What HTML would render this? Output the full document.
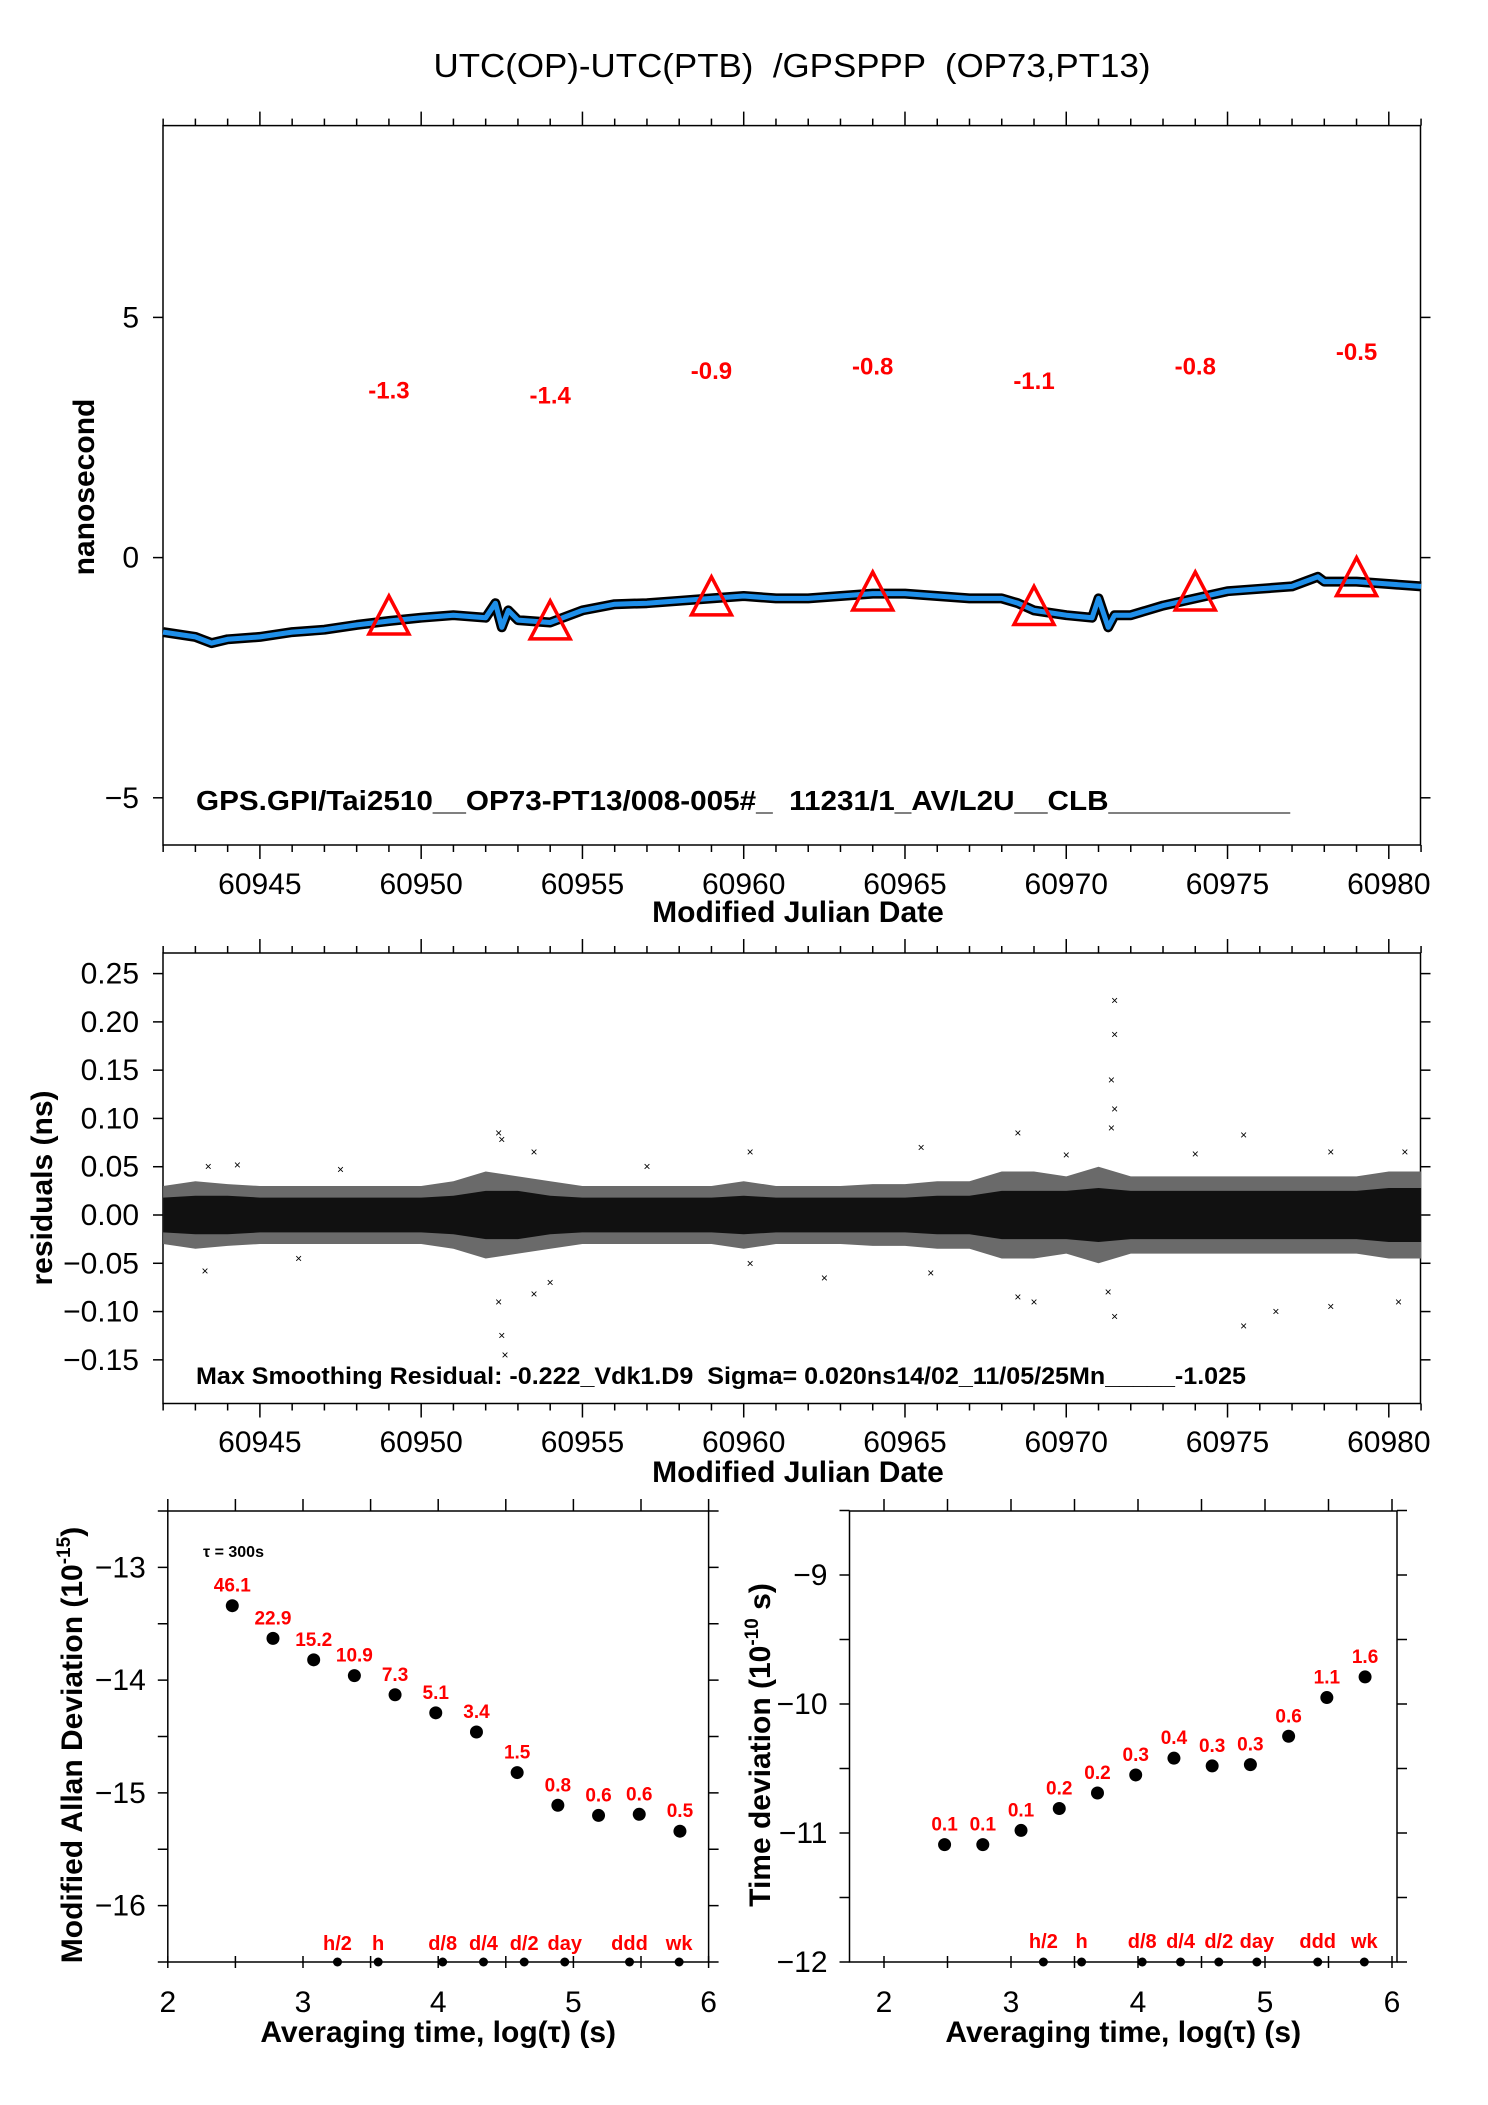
<!DOCTYPE html>
<html><head><meta charset="utf-8"><style>
html,body{margin:0;padding:0;background:#fff;}
svg{display:block;font-family:"Liberation Sans",sans-serif;}
text{white-space:pre;}
</style></head><body>
<svg id="s" width="1488" height="2105" viewBox="0 0 1488 2105" xmlns="http://www.w3.org/2000/svg" xml:space="preserve">
<text x="792" y="77" font-size="33" text-anchor="middle" textLength="717" lengthAdjust="spacingAndGlyphs">UTC(OP)-UTC(PTB)  /GPSPPP  (OP73,PT13)</text>
<g id="p1"></g>
<g id="p2"></g>
<g id="p3"></g>
<g id="p4"></g>
</svg>
<script>
// ---- Panel 1 data ----
const offMjd = [60942,60943,60943.5,60944,60945,60946,60947,60948,60949,60950,60951,60952,60952.3,60952.5,60952.7,60953,60954,60955,60956,60957,60958,60959,60960,60961,60962,60963,60964,60965,60966,60967,60968,60968.5,60969,60970,60970.8,60971,60971.3,60971.5,60972,60973,60974,60975,60976,60977,60977.8,60978,60979,60980,60981];
const offVal = [-1.55,-1.65,-1.78,-1.7,-1.65,-1.55,-1.5,-1.4,-1.32,-1.25,-1.2,-1.25,-0.95,-1.45,-1.1,-1.3,-1.35,-1.1,-0.97,-0.95,-0.9,-0.85,-0.8,-0.85,-0.85,-0.8,-0.75,-0.75,-0.8,-0.85,-0.85,-0.95,-1.1,-1.2,-1.25,-0.85,-1.45,-1.2,-1.2,-1.0,-0.85,-0.7,-0.65,-0.6,-0.4,-0.5,-0.5,-0.55,-0.6];
const triMjd = [60949,60954,60959,60964,60969,60974,60979];
const triVal = [-1.3,-1.4,-0.9,-0.8,-1.1,-0.8,-0.5];
const triLbl = ["-1.3","-1.4","-0.9","-0.8","-1.1","-0.8","-0.5"];
const mjdTicks = [60945,60950,60955,60960,60965,60970,60975,60980];
const nsTicks = [5,0,-5];
// ---- Panel 2 data ----
const bandMjd = [60942,60943,60944,60945,60946,60947,60948,60949,60950,60951,60952,60953,60954,60955,60956,60957,60958,60959,60960,60961,60962,60963,60964,60965,60966,60967,60968,60969,60970,60971,60972,60973,60974,60975,60976,60977,60978,60979,60980,60981];
const bandInner = [0.018,0.02,0.02,0.018,0.018,0.018,0.018,0.018,0.018,0.02,0.025,0.025,0.02,0.018,0.018,0.018,0.018,0.018,0.02,0.018,0.018,0.018,0.018,0.018,0.02,0.02,0.025,0.025,0.025,0.028,0.025,0.025,0.025,0.025,0.025,0.025,0.025,0.025,0.028,0.028];
const bandOuter = [0.03,0.035,0.032,0.03,0.03,0.03,0.03,0.03,0.03,0.035,0.045,0.04,0.035,0.03,0.03,0.03,0.03,0.03,0.035,0.03,0.03,0.03,0.032,0.032,0.035,0.035,0.045,0.045,0.04,0.05,0.04,0.04,0.04,0.04,0.04,0.04,0.04,0.04,0.045,0.045];
const outMjd = [60943.3,60943.4,60944.3,60946.2,60947.5,60952.4,60952.5,60952.4,60952.5,60952.6,60953.5,60953.5,60954,60957,60960.2,60960.2,60962.5,60965.5,60965.8,60968.5,60968.5,60969,60970,60971.5,60971.5,60971.4,60971.5,60971.4,60971.5,60971.3,60974,60975.5,60975.5,60976.5,60978.2,60978.2,60980.3,60980.5];
const outVal = [-0.058,0.05,0.052,-0.045,0.047,0.085,0.078,-0.09,-0.125,-0.145,0.065,-0.082,-0.07,0.05,0.065,-0.05,-0.065,0.07,-0.06,0.085,-0.085,-0.09,0.062,0.222,0.187,0.14,0.11,0.09,-0.105,-0.08,0.063,0.083,-0.115,-0.1,-0.095,0.065,-0.09,0.065];
const resTicks = [0.25,0.20,0.15,0.10,0.05,0.00,-0.05,-0.10,-0.15];
const resLbl = ["0.25","0.20","0.15","0.10","0.05","0.00","\u22120.05","\u22120.10","\u22120.15"];
// ---- Panels 3/4 data ----
const logTau = [2.477,2.778,3.079,3.380,3.681,3.982,4.283,4.584,4.885,5.186,5.487,5.788];
const madev = [-13.34,-13.63,-13.82,-13.96,-14.13,-14.29,-14.46,-14.82,-15.11,-15.2,-15.19,-15.34];
const madevLbl = ["46.1","22.9","15.2","10.9","7.3","5.1","3.4","1.5","0.8","0.6","0.6","0.5"];
const tdev = [-11.09,-11.09,-10.98,-10.81,-10.69,-10.55,-10.42,-10.48,-10.47,-10.25,-9.95,-9.79];
const tdevLbl = ["0.1","0.1","0.1","0.2","0.2","0.3","0.4","0.3","0.3","0.6","1.1","1.6"];
const markTau = [3.255,3.556,4.033,4.335,4.636,4.936,5.415,5.782];
const markLbl = ["h/2","h","d/8","d/4","d/2","day","ddd","wk"];
const logTicks = [2,3,4,5,6];
const adevTicks = [-13,-14,-15,-16];
const tdevTicks = [-9,-10,-11,-12];

const NS="http://www.w3.org/2000/svg";
function mk(parent,tag,attrs,txt){const e=document.createElementNS(NS,tag);for(const k in attrs)e.setAttribute(k,attrs[k]);if(txt!==undefined)e.textContent=txt;parent.appendChild(e);return e;}
function lin(d0,d1,r0,r1){return v=>r0+(v-d0)*(r1-r0)/(d1-d0);}
const FS=30;

// ===== Panel 1 =====
(function(){
const g=document.getElementById('p1');
const L=163,R=1420.5,T=125.6,B=845;
const x=lin(60945,60980,259.9,1388.8), y=lin(0,5,557.6,317.4);
const fr=mk(g,'rect',{x:L,y:T,width:R-L,height:B-T,fill:'none',stroke:'#000','stroke-width':1.5});


for(let d=60942;d<=60981;d++){const len=(d%5===0)?14:7;const px=x(d);
 const t1=mk(g,'line',{x1:px,y1:T,x2:px,y2:T-len,stroke:'#000','stroke-width':1.5});
 
 const t2=mk(g,'line',{x1:px,y1:B,x2:px,y2:B+len,stroke:'#000','stroke-width':1.5});
 }
mjdTicks.forEach(v=>{const t=mk(g,'text',{x:x(v),y:894,'font-size':FS,'text-anchor':'middle'},String(v));
 });
nsTicks.forEach(v=>{const py=y(v);
 const a=mk(g,'line',{x1:L-10,y1:py,x2:L,y2:py,stroke:'#000','stroke-width':1.5});
 const b=mk(g,'line',{x1:R,y1:py,x2:R+10,y2:py,stroke:'#000','stroke-width':1.5});
 const t=mk(g,'text',{x:L-24,y:py+10,'font-size':FS,'text-anchor':'end'},v<0?'\u2212'+Math.abs(v):String(v));
 });
const xt=mk(g,'text',{x:798,y:922,'font-size':FS,'font-weight':'bold','text-anchor':'middle'},'Modified Julian Date');

const yt=mk(g,'text',{x:0,y:0,'font-size':FS,'font-weight':'bold','text-anchor':'middle',transform:'translate(94,487) rotate(-90)'},'nanosecond');

const pts=offMjd.map((m,i)=>x(m).toFixed(1)+','+y(offVal[i]).toFixed(1)).join(' ');
const l1=mk(g,'polyline',{points:pts,fill:'none',stroke:'#000','stroke-width':10,'stroke-linejoin':'round'});

const l2=mk(g,'polyline',{points:pts,fill:'none',stroke:'#1e8fea','stroke-width':5,'stroke-linejoin':'round'});

triMjd.forEach((m,i)=>{const cx=x(m),cy=y(triVal[i]);
 const p=mk(g,'polygon',{points:`${cx-20},${cy+14} ${cx+20},${cy+14} ${cx},${cy-24}`,fill:'none',stroke:'#ff0000','stroke-width':3.5});
 
 const t=mk(g,'text',{x:cx,y:y(triVal[i]+4.8)+9,'font-size':24,'font-weight':'bold',fill:'#ff0000','text-anchor':'middle'},triLbl[i]);
 });
const info=mk(g,'text',{x:196,y:810,'font-size':28,'font-weight':'bold',textLength:1094,lengthAdjust:'spacingAndGlyphs'},'GPS.GPI/Tai2510__OP73-PT13/008-005#_  11231/1_AV/L2U__CLB___________');

})();

// ===== Panel 2 =====
(function(){
const g=document.getElementById('p2');
const L=163,R=1420.5,T=953,B=1403.5;
const x=lin(60945,60980,259.9,1388.8), y=lin(0,0.25,1215,973.6);
const fr=mk(g,'rect',{x:L,y:T,width:R-L,height:B-T,fill:'none',stroke:'#000','stroke-width':1.5});

for(let d=60942;d<=60981;d++){const len=(d%5===0)?14:7;const px=x(d);
 const t1=mk(g,'line',{x1:px,y1:T,x2:px,y2:T-len,stroke:'#000','stroke-width':1.5});
 
 const t2=mk(g,'line',{x1:px,y1:B,x2:px,y2:B+len,stroke:'#000','stroke-width':1.5});
 }
mjdTicks.forEach(v=>{const t=mk(g,'text',{x:x(v),y:1452,'font-size':FS,'text-anchor':'middle'},String(v));
 });
resTicks.forEach((v,i)=>{const py=y(v);
 const a=mk(g,'line',{x1:L-10,y1:py,x2:L,y2:py,stroke:'#000','stroke-width':1.5});
 const b=mk(g,'line',{x1:R,y1:py,x2:R+10,y2:py,stroke:'#000','stroke-width':1.5});
 const t=mk(g,'text',{x:L-24,y:py+10,'font-size':FS,'text-anchor':'end'},resLbl[i]);
 });
const xt=mk(g,'text',{x:798,y:1482,'font-size':FS,'font-weight':'bold','text-anchor':'middle'},'Modified Julian Date');

const yt=mk(g,'text',{x:0,y:0,'font-size':FS,'font-weight':'bold','text-anchor':'middle',transform:'translate(52,1188) rotate(-90)'},'residuals (ns)');

function band(arr,fill,name){const up=bandMjd.map((m,i)=>x(m).toFixed(1)+','+y(arr[i]).toFixed(1));
 const lo=bandMjd.map((m,i)=>x(m).toFixed(1)+','+y(-arr[i]).toFixed(1)).reverse();
 const p=mk(g,'polygon',{points:up.concat(lo).join(' '),fill:fill});
 }
band(bandOuter,'#6a6a6a','residual-outer-band');
band(bandInner,'#111','residual-inner-band');
outMjd.forEach((m,i)=>{const t=mk(g,'text',{x:x(m),y:y(outVal[i])+4,'font-size':12,'text-anchor':'middle'},'\u00d7');
 });
const info=mk(g,'text',{x:196,y:1384,'font-size':24,'font-weight':'bold',textLength:1050,lengthAdjust:'spacingAndGlyphs'},'Max Smoothing Residual: -0.222_Vdk1.D9  Sigma= 0.020ns14/02_11/05/25Mn_____-1.025');

})();

// ===== Panels 3 & 4 =====
function stab(gid,L,R,T,B,x2,x6,yA,yAv,yB,yBv,yTicks,vals,lbls,labelDy){
const g=document.getElementById(gid);
const x=lin(2,6,x2,x6), y=lin(yAv,yBv,yA,yB);
const fr=mk(g,'rect',{x:L,y:T,width:R-L,height:B-T,fill:'none',stroke:'#000','stroke-width':1.5});

for(let k=2;k<=6;k+=0.5){const px=x(k);
 const t1=mk(g,'line',{x1:px,y1:T,x2:px,y2:T-12,stroke:'#000','stroke-width':1.5});
 const t2=mk(g,'line',{x1:px,y1:B-6,x2:px,y2:B+6,stroke:'#000','stroke-width':1.5});}
logTicks.forEach(v=>{const t=mk(g,'text',{x:x(v),y:2012,'font-size':FS,'text-anchor':'middle'},String(v));
 });
const step=yTicks[0]-yTicks[1];
for(let v=yTicks[0]+step/2;v>=yTicks[yTicks.length-1]-step/2-1e-9;v-=step/2){const py=y(v);if(py<T-1||py>B+1)continue;
 const a=mk(g,'line',{x1:L-10,y1:py,x2:L,y2:py,stroke:'#000','stroke-width':1.5});
 const b=mk(g,'line',{x1:R,y1:py,x2:R+10,y2:py,stroke:'#000','stroke-width':1.5});}
yTicks.forEach(v=>{const t=mk(g,'text',{x:L-22,y:y(v)+10,'font-size':FS,'text-anchor':'end'},'\u2212'+Math.abs(v));
 });
const xt=mk(g,'text',{x:(L+R)/2,y:2042,'font-size':FS,'font-weight':'bold','text-anchor':'middle'},'Averaging time, log(\u03c4) (s)');

vals.forEach((v,i)=>{const c=mk(g,'circle',{cx:x(logTau[i]),cy:y(v),r:6.5,fill:'#000'});
 
 const t=mk(g,'text',{x:x(logTau[i]),y:y(v)-14,'font-size':19,'font-weight':'bold',fill:'#ff0000','text-anchor':'middle'},lbls[i]);
 });
markTau.forEach((m,i)=>{const c=mk(g,'circle',{cx:x(m),cy:B,r:4.5,fill:'#000'});
 
 const t=mk(g,'text',{x:x(m),y:B-12+labelDy,'font-size':20,'font-weight':'bold',fill:'#ff0000','text-anchor':'middle'},markLbl[i]);
 });
return {g,x,y};
}
(function(){
const r=stab('p3',167.8,708.6,1511,1962,167.8,708.6,1511,-12.5,1962,-16.5,adevTicks,madev,madevLbl,0);
const yt=mk(r.g,'text',{x:0,y:0,'font-size':FS,'font-weight':'bold','text-anchor':'middle',transform:'translate(82,1745) rotate(-90)'});

yt.appendChild(document.createTextNode('Modified Allan Deviation (10'));
const sp=mk(yt,'tspan',{'font-size':19,dy:-12},'-15');

const sp2=mk(yt,'tspan',{dy:12},')');

const tau=mk(r.g,'text',{x:203,y:1557,'font-size':16,'font-weight':'bold'},'\u03c4 = 300s');

})();
(function(){
const r=stab('p4',849.5,1397,1511,1962,884,1392,1575,-9,1962,-12,tdevTicks,tdev,tdevLbl,-2);
const yt=mk(r.g,'text',{x:0,y:0,'font-size':FS,'font-weight':'bold','text-anchor':'middle',transform:'translate(770,1745) rotate(-90)'});

yt.appendChild(document.createTextNode('Time deviation (10'));
const sp=mk(yt,'tspan',{'font-size':19,dy:-12},'-10');

const sp2=mk(yt,'tspan',{dy:12},' s)');

})();
</script>
</body></html>
